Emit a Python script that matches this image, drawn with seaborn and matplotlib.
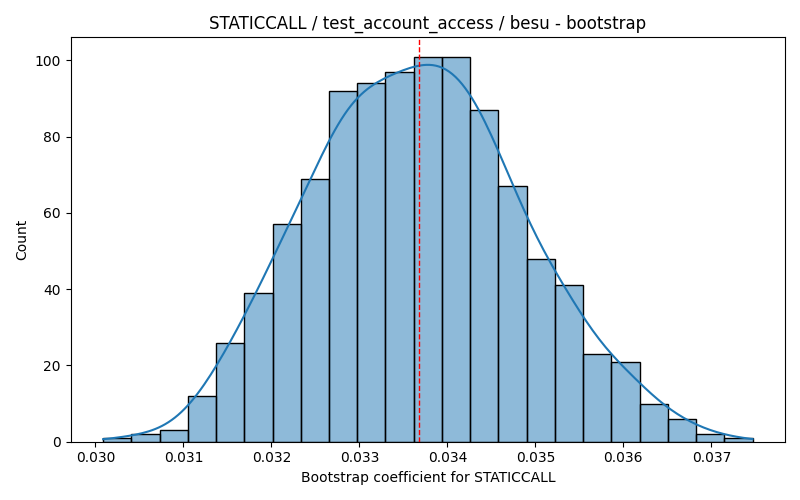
import numpy as np
import pandas as pd
import matplotlib
matplotlib.use('Agg')
import matplotlib.pyplot as plt
import seaborn as sns

# bootstrap histogram (23 bins, 1000 samples)
bin_lo = 0.030087
bin_hi = 0.037468
counts = [1, 2, 3, 12, 26, 39, 57, 69, 92, 94, 97, 101, 101,
          87, 67, 48, 41, 23, 21, 10, 6, 2, 1]
point_estimate = 0.033673

edges = np.linspace(bin_lo, bin_hi, len(counts) + 1)
centers = (edges[:-1] + edges[1:]) / 2
df = pd.DataFrame({'coef': centers, 'n': counts})

# weighted kde gets a wide bandwidth from the effective n, scale back to n=1000
w = np.array(counts, dtype=float)
neff = w.sum() ** 2 / (w ** 2).sum()
bw_adj = (neff / w.sum()) ** 0.2

fig = plt.figure(figsize=(8, 5), dpi=100)
ax = sns.histplot(data=df, x='coef', weights='n', bins=len(counts),
                  binrange=(bin_lo, bin_hi), kde=True,
                  kde_kws={'bw_adjust': bw_adj, 'cut': 3, 'clip': (bin_lo, bin_hi)})
ax.axvline(point_estimate, color='red', linestyle='--', linewidth=1)
ax.set(title='STATICCALL / test_account_access / besu - bootstrap',
       xlabel='Bootstrap coefficient for STATICCALL', ylabel='Count')
plt.tight_layout()
plt.savefig('out.png')
